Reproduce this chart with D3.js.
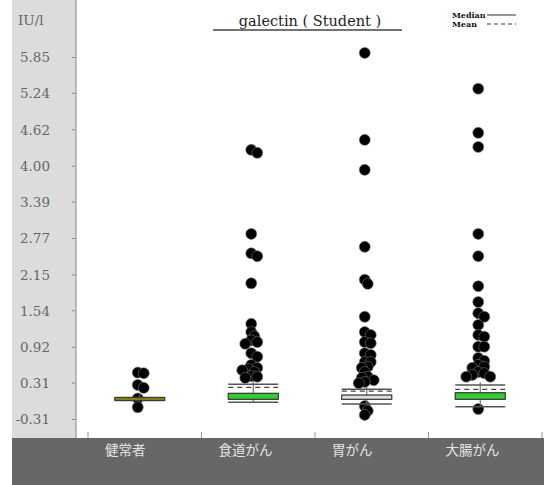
<!DOCTYPE html>
<html>
<head>
<meta charset="utf-8">
<script src="https://cdn.jsdelivr.net/npm/d3@7"></script>
<style>
  html, body { margin: 0; padding: 0; background: #fff; }
  svg { display: block; }
</style>
</head>
<body>
<script>
// Groups and measured galectin values (IU/l)
const categories = ["健常者", "食道がん", "胃がん", "大腸がん"];
const healthy = [0.48, 0.47, 0.27, 0.22, 0.04, -0.11];
const esophageal = [4.27, 4.22, 2.84, 2.51, 2.46, 2.00, 1.31, 1.17, 1.10, 1.03, 1.00, 0.97,
  0.81, 0.75, 0.61, 0.56, 0.54, 0.52, 0.49, 0.42, 0.41, 0.39];
const gastric = [5.92, 4.44, 3.93, 2.62, 2.06, 1.99, 1.43, 1.17, 1.12, 1.00, 0.98, 0.81,
  0.78, 0.66, 0.66, 0.58, 0.56, 0.49, 0.41, 0.39, 0.35, 0.32, 0.30, -0.09, -0.17, -0.24];
const colorectal = [5.31, 4.56, 4.32, 2.84, 2.46, 1.95, 1.68, 1.49, 1.43, 1.29, 1.12, 1.09,
  0.92, 0.92, 0.73, 0.68, 0.61, 0.58, 0.56, 0.49, 0.47, 0.44, 0.41, 0.41, -0.14];

// Summary lines per group
const upperLine = [0.055, 0.28, 0.195, 0.268];
const meanLine  = [0.045, 0.229, 0.166, 0.195];
const boxHigh   = [0.05, 0.127, 0.098, 0.137];
const boxLow    = [0.01, 0.025, 0.025, 0.025];
const lowerLine = [0.005, -0.026, -0.055, -0.10];

// Axis tick labels
const yTicks = [-0.31, 0.31, 0.92, 1.54, 2.15, 2.77, 3.39, 4.00, 4.62, 5.24, 5.85];
const yUnit = "IU/l";
const title = "galectin ( Student )";

const groups = [healthy, esophageal, gastric, colorectal];
const boxFills = ["#bdb800", "#33cc33", "#dedede", "#33cc33"];

const W = 544, H = 485;
const svg = d3.select("body").append("svg").attr("width", W).attr("height", H);

const plotTop = 0, plotBottom = 438, axisX = 76;
const serif = "'DejaVu Serif', serif";

const y = d3.scaleLinear().domain([-0.31, 5.85]).range([419, 57]);
const x = d3.scaleBand().domain(categories).range([88, 542]).padding(0);

// Left label panel and bottom band
svg.append("rect").attr("x", 12).attr("y", plotTop).attr("width", axisX - 12)
  .attr("height", plotBottom - plotTop).attr("fill", "#dcdcdc");
svg.append("rect").attr("x", 12).attr("y", plotBottom).attr("width", W - 12)
  .attr("height", H - plotBottom).attr("fill", "#676767");

// Y axis
const yAxis = d3.axisLeft(y).tickValues(yTicks).tickSize(4)
  .tickFormat(d => d.toFixed(2));
const gy = svg.append("g").attr("transform", `translate(${axisX},0)`).call(yAxis);
gy.select(".domain").remove();
gy.selectAll(".tick line").attr("stroke", "#8a8a8a");
gy.selectAll(".tick text").attr("x", -26).attr("dy", "0.36em")
  .attr("fill", "#666").attr("font-family", serif).attr("font-size", 13.5);
svg.append("line").attr("x1", axisX).attr("x2", axisX).attr("y1", plotTop).attr("y2", plotBottom)
  .attr("stroke", "#a8a8a8").attr("stroke-width", 1.5);

svg.append("text").attr("x", 18).attr("y", 25).text(yUnit)
  .attr("fill", "#666").attr("font-family", serif).attr("font-size", 13.5);

// X axis ticks at band edges
const edges = categories.map(c => x(c)).concat([x.range()[1]]);
svg.selectAll("line.xtick").data(edges).enter().append("line")
  .attr("class", "xtick")
  .attr("x1", d => d).attr("x2", d => d).attr("y1", plotBottom - 6).attr("y2", plotBottom)
  .attr("stroke", "#999");

svg.selectAll("text.xlab").data(categories).enter().append("text")
  .attr("class", "xlab")
  .attr("x", d => x(d) + 17).attr("y", 455)
  .attr("fill", "#e4e4e4").attr("font-family", "'Noto Sans CJK JP', sans-serif")
  .attr("font-size", 13.5).text(d => d);

// Title with underline
svg.append("text").attr("x", 310).attr("y", 26).attr("text-anchor", "middle")
  .attr("font-family", serif).attr("font-size", 14.5).attr("fill", "#222")
  .text(title);
svg.append("line").attr("x1", 213).attr("x2", 402).attr("y1", 30).attr("y2", 30)
  .attr("stroke", "#444").attr("stroke-width", 1.5);

// Legend
const legend = [{ label: "Median", dash: null, yy: 15 }, { label: "Mean", dash: "4,3", yy: 24 }];
legend.forEach(l => {
  svg.append("text").attr("x", 452).attr("y", l.yy + 3).text(l.label)
    .attr("font-family", serif).attr("font-weight", "bold")
    .attr("font-size", 8).attr("fill", "#111");
  svg.append("line").attr("x1", 487).attr("x2", 516).attr("y1", l.yy).attr("y2", l.yy)
    .attr("stroke", "#333").attr("stroke-width", 1).attr("stroke-dasharray", l.dash);
});

// Swarm placement: each point takes the nearest free offset from the group centre
function swarm(values, cx) {
  const placed = [];
  const steps = [0, 3, -3, 6, -6, 9, -9, 12, -12];
  values.forEach(v => {
    const py = y(v);
    let px = cx;
    for (const s of steps) {
      const cand = cx + s;
      if (placed.every(p => Math.hypot(p.x - cand, p.y - py) >= 5)) { px = cand; break; }
    }
    placed.push({ x: px, y: py, v });
  });
  return placed;
}

categories.forEach((c, i) => {
  const cx = x(c) + x.bandwidth() / 2 - 5;
  const g = svg.append("g");
  const pts = swarm(groups[i], cx - 2);
  g.selectAll("circle").data(pts).enter().append("circle")
    .attr("cx", d => d.x).attr("cy", d => d.y).attr("r", 5.5)
    .attr("fill", "#000").attr("stroke", "#777").attr("stroke-width", 0.6);

  const hw = 25;
  // centre stem
  g.append("line").attr("x1", cx).attr("x2", cx)
    .attr("y1", y(upperLine[i]) - 3).attr("y2", y(lowerLine[i]))
    .attr("stroke", "#777").attr("stroke-width", 1.2);
  // upper and lower lines
  [upperLine[i], lowerLine[i]].forEach(v => {
    g.append("line").attr("x1", cx - hw).attr("x2", cx + hw).attr("y1", y(v)).attr("y2", y(v))
      .attr("stroke", "#555").attr("stroke-width", 1.5);
  });
  // mean line
  g.append("line").attr("x1", cx - hw).attr("x2", cx + hw)
    .attr("y1", y(meanLine[i])).attr("y2", y(meanLine[i]))
    .attr("stroke", "#444").attr("stroke-width", 1.2).attr("stroke-dasharray", "5,4");
  // box
  g.append("rect").attr("x", cx - hw).attr("width", hw * 2)
    .attr("y", y(boxHigh[i])).attr("height", y(boxLow[i]) - y(boxHigh[i]))
    .attr("fill", boxFills[i]).attr("stroke", "#333").attr("stroke-width", 1.2);
});
</script>
</body>
</html>
